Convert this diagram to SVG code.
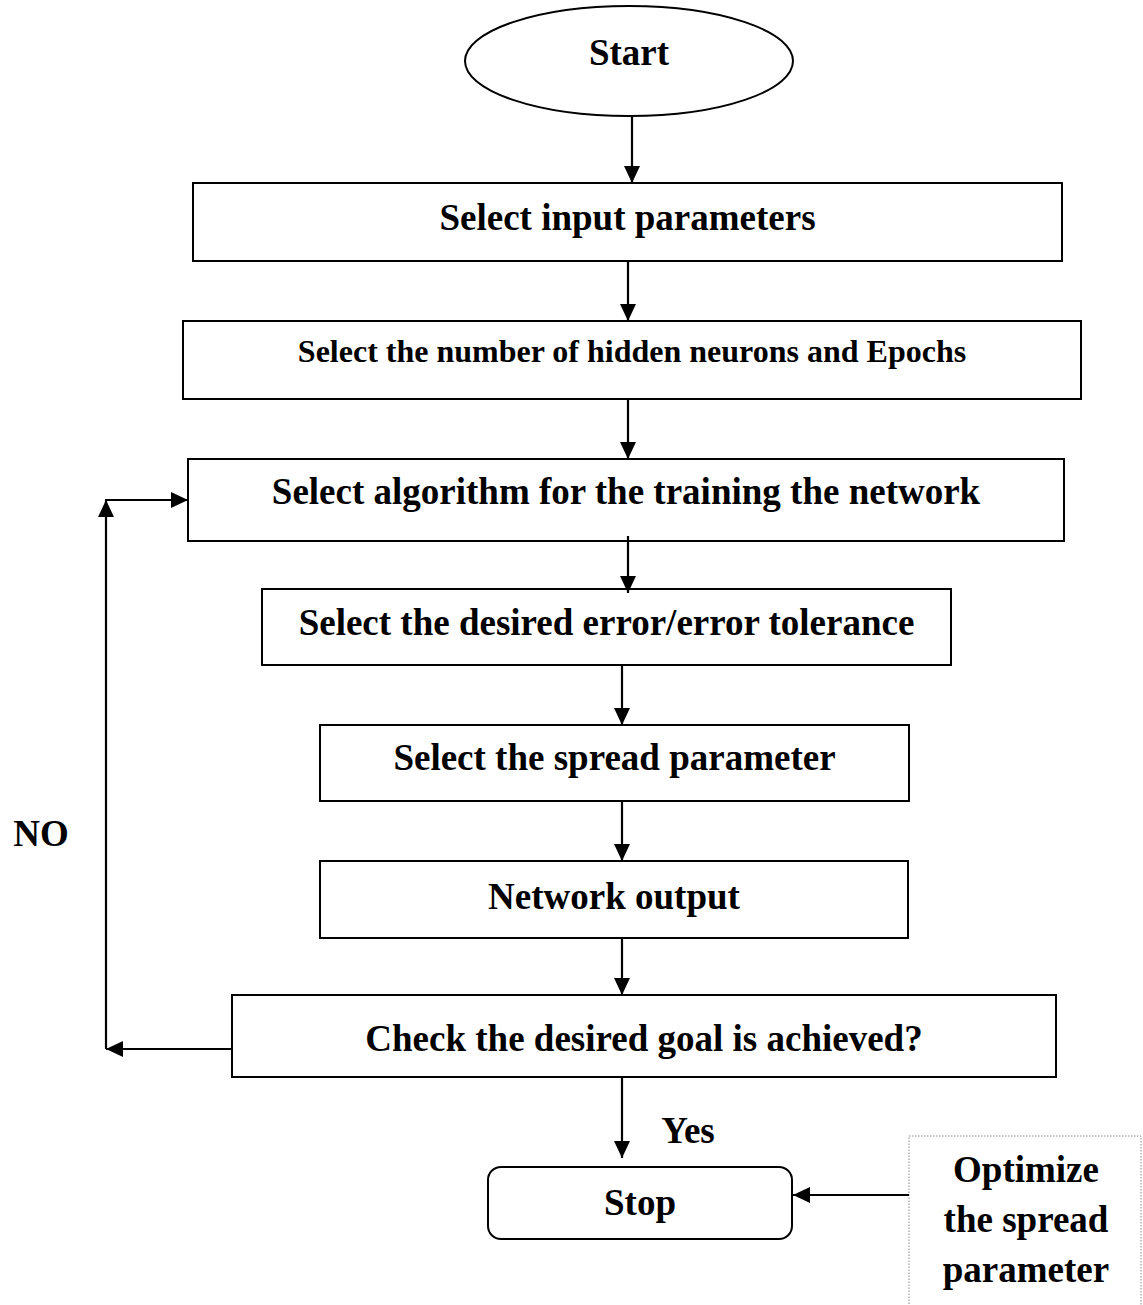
<svg xmlns="http://www.w3.org/2000/svg" width="1143" height="1305" viewBox="0 0 1143 1305">
  <style>
    .box { fill: #ffffff; stroke: #000000; stroke-width: 2; }
    .lbl { font-family: "Liberation Serif", "Times New Roman", serif; font-weight: bold; font-size: 37px; fill: #000000; text-anchor: middle; }
    .small { font-size: 32px; }
    .wire { fill: none; stroke: #000000; stroke-width: 2.2; }
    .note { fill: #ffffff; stroke: #8a8a8a; stroke-width: 1; stroke-dasharray: 1.5 1.5; }
  </style>
  <defs>
    <marker id="arrow" viewBox="0 0 17 16" refX="17" refY="8" markerWidth="17" markerHeight="16" markerUnits="userSpaceOnUse" orient="auto">
      <path d="M0,0 L17,8 L0,16 Z" fill="#000000"/>
    </marker>
  </defs>

  <g id="start">
    <ellipse class="box" cx="629" cy="61" rx="164" ry="55"/>
    <text class="lbl" x="629" y="65">Start</text>
  </g>

  <g id="select-input">
    <rect class="box" x="193" y="183" width="869" height="78"/>
    <text class="lbl" x="627.5" y="230">Select input parameters</text>
  </g>

  <g id="select-neurons">
    <rect class="box" x="183" y="321" width="898" height="78"/>
    <text class="lbl small" x="632" y="362">Select the number of hidden neurons and Epochs</text>
  </g>

  <g id="select-algorithm">
    <rect class="box" x="188" y="459" width="876" height="82"/>
    <text class="lbl" x="626" y="504">Select algorithm for the training the network</text>
  </g>

  <g id="select-error">
    <rect class="box" x="262" y="589" width="689" height="76"/>
    <text class="lbl" x="606.5" y="635">Select the desired error/error tolerance</text>
  </g>

  <g id="select-spread">
    <rect class="box" x="320" y="725" width="589" height="76"/>
    <text class="lbl" x="614.5" y="770">Select the spread parameter</text>
  </g>

  <g id="network-output">
    <rect class="box" x="320" y="861" width="588" height="77"/>
    <text class="lbl" x="614" y="909">Network output</text>
  </g>

  <g id="check-goal">
    <rect class="box" x="232" y="995" width="824" height="82"/>
    <text class="lbl" x="644" y="1051">Check the desired goal is achieved?</text>
  </g>

  <g id="stop">
    <rect class="box" x="488" y="1167" width="304" height="72" rx="13" ry="13"/>
    <text class="lbl" x="640" y="1215">Stop</text>
  </g>

  <g id="optimize">
    <rect class="note" x="909" y="1136" width="232" height="200"/>
    <text class="lbl" x="1026" y="1182">Optimize</text>
    <text class="lbl" x="1026" y="1232">the spread</text>
    <text class="lbl" x="1026" y="1282">parameter</text>
  </g>

  <!-- connectors, drawn last so the short overlap below the training box stays visible -->
  <g id="connectors">
    <line class="wire" x1="632" y1="116" x2="632" y2="183" marker-end="url(#arrow)"/>
    <line class="wire" x1="628" y1="261" x2="628" y2="321" marker-end="url(#arrow)"/>
    <line class="wire" x1="628" y1="399" x2="628" y2="459" marker-end="url(#arrow)"/>
    <line class="wire" x1="628" y1="536" x2="628" y2="593" marker-end="url(#arrow)"/>
    <line class="wire" x1="622" y1="665" x2="622" y2="725" marker-end="url(#arrow)"/>
    <line class="wire" x1="622" y1="801" x2="622" y2="861" marker-end="url(#arrow)"/>
    <line class="wire" x1="622" y1="938" x2="622" y2="995" marker-end="url(#arrow)"/>
    <line class="wire" x1="622" y1="1077" x2="622" y2="1158" marker-end="url(#arrow)"/>
    <!-- NO loop back to training step -->
    <line class="wire" x1="232" y1="1049" x2="106" y2="1049" marker-end="url(#arrow)"/>
    <line class="wire" x1="106" y1="1049" x2="106" y2="500" marker-end="url(#arrow)"/>
    <line class="wire" x1="105" y1="500" x2="188" y2="500" marker-end="url(#arrow)"/>
    <!-- optimisation note into Stop -->
    <line class="wire" x1="909" y1="1195" x2="793" y2="1195" marker-end="url(#arrow)"/>
  </g>

  <g id="edge-labels">
    <text class="lbl" x="41" y="846">NO</text>
    <text class="lbl" x="688" y="1143">Yes</text>
  </g>
</svg>
